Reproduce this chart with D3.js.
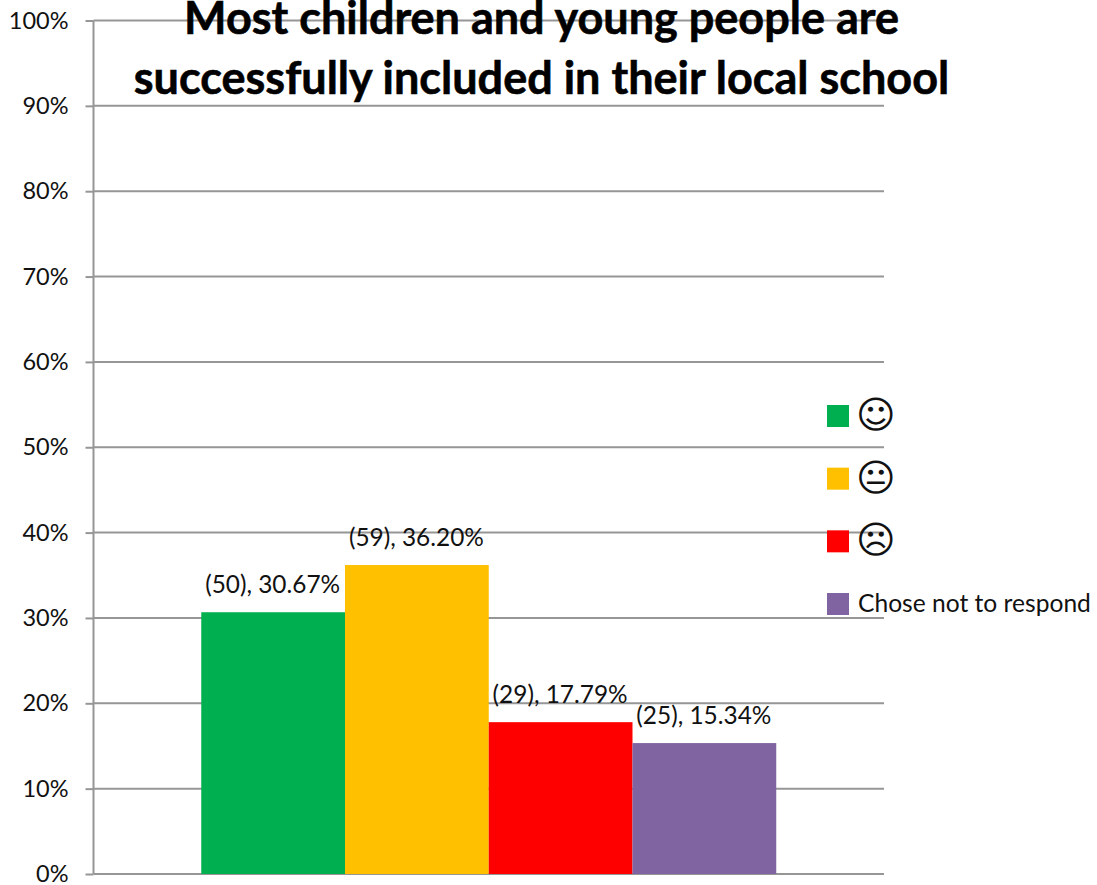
<!DOCTYPE html>
<html><head><meta charset="utf-8">
<script src="https://cdn.jsdelivr.net/npm/d3@7/dist/d3.min.js"></script>
<style>html,body{margin:0;padding:0;background:#fff}svg{display:block}text{font-family:Lato,"Open Sans",sans-serif;fill:#111}</style>
</head><body><svg id="c" width="1097" height="885"></svg>
<script>
const seriesNames = ["☺", "😐", "☹", "Chose not to respond"];
const counts = [50, 59, 29, 25];
const percents = [30.67, 36.20, 17.79, 15.34];
const colors = ["#00B050", "#FFC000", "#FF0000", "#8064A2"];
const titleLines = ["Most children and young people are", "successfully included in their local school"];
const yTicks = [0,10,20,30,40,50,60,70,80,90,100];

const svg = d3.select("#c");
const y = d3.scaleLinear().domain([0,100]).range([874,20.5]);
const outer = d3.scaleBand().domain(["all"]).range([93.5,884]).paddingOuter(0.1874).paddingInner(0);
const x = d3.scaleBand().domain(seriesNames).range([outer("all"), outer("all")+outer.bandwidth()]);

const yAxis = d3.axisLeft(y).tickValues(yTicks).tickFormat(d=>d+"%").tickSize(8).tickPadding(17);
const ag = svg.append("g").attr("transform","translate(93.5,0)").call(yAxis);
ag.select(".domain").attr("stroke","#969696").attr("stroke-width",2).attr("d",`M0,${y(100)}V${y(0)}`);
ag.selectAll(".tick line").attr("stroke","#969696").attr("stroke-width",2);
ag.selectAll(".tick text").attr("font-size",23.5).attr("fill","#111").style("font-family","Lato");

svg.append("g").selectAll("line").data(yTicks).join("line")
  .attr("x1",93.5).attr("x2",884).attr("y1",d=>y(d)).attr("y2",d=>y(d))
  .attr("stroke","#969696").attr("stroke-width",2);

svg.append("g").selectAll("rect").data(seriesNames).join("rect")
  .attr("x",d=>x(d)).attr("width",x.bandwidth())
  .attr("y",(d,i)=>y(percents[i])).attr("height",(d,i)=>y(0)-y(percents[i]))
  .attr("fill",(d,i)=>colors[i]);

svg.append("g").selectAll("text").data(seriesNames).join("text")
  .attr("x",d=>x(d)+x.bandwidth()/2-0.5).attr("y",(d,i)=>y(percents[i])-19)
  .attr("text-anchor","middle").attr("font-size",24.4)
  .text((d,i)=>`(${counts[i]}), ${percents[i].toFixed(2)}%`);

svg.append("g").selectAll("text").data(titleLines).join("text")
  .attr("x",541.5).attr("y",(d,i)=>34+i*60).attr("text-anchor","middle")
  .attr("font-size",45).attr("font-weight",700)
  .style("fill","#000").style("stroke","#000").style("stroke-width",0.6).text(d=>d);

const ly = d3.scalePoint().domain(seriesNames).range([416,604]);
const lg = svg.append("g").selectAll("g").data(seriesNames).join("g")
  .attr("transform",d=>`translate(827,${ly(d)})`);
lg.append("rect").attr("y",-11).attr("width",22).attr("height",22).attr("fill",(d,i)=>colors[i]);
lg.append("text").attr("x",d=>d.length>2?31:29).attr("y",d=>d.length>2?8:12).attr("font-size",d=>d.length>2?24.6:38)
  .style("font-family",d=>d.length>2?"Lato":"DejaVu Sans").text(d=>d);
</script></body></html>
